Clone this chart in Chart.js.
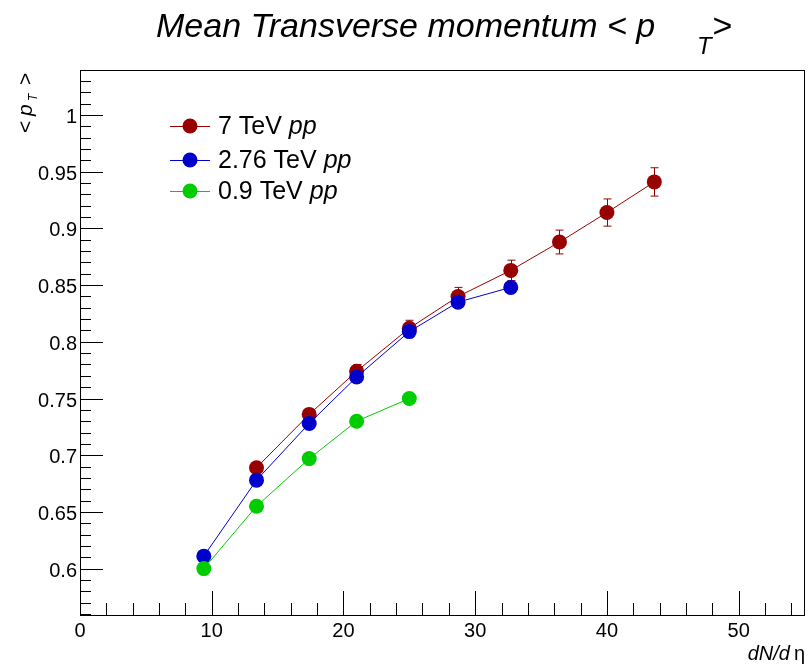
<!DOCTYPE html>
<html>
<head>
<meta charset="utf-8">
<script src="https://cdn.jsdelivr.net/npm/chart.js@4.4.1/dist/chart.umd.min.js"></script>
<style>
  body { margin: 0; background: #fff; }
  canvas { display: block; }
</style>
</head>
<body>
<canvas id="c" width="812" height="666"></canvas>
<script>
// values
const x7 = [13.4, 17.4, 21.0, 25.0, 28.7, 32.7, 36.4, 40.0, 43.6]
const pt7 = [0.689, 0.736, 0.774, 0.812, 0.840, 0.863, 0.888, 0.914, 0.941]
const err7 = [0.004, 0.005, 0.006, 0.007, 0.008, 0.009, 0.0105, 0.012, 0.0125]
const x276 = [9.4, 13.4, 17.4, 21.0, 25.0, 28.7, 32.7]
const pt276 = [0.611, 0.678, 0.728, 0.769, 0.809, 0.835, 0.848]
const x09 = [9.4, 13.4, 17.4, 21.0, 25.0]
const pt09 = [0.600, 0.655, 0.697, 0.730, 0.750]

const xTicks = [0, 10, 20, 30, 40, 50]
const yTicks = [0.6, 0.65, 0.7, 0.75, 0.8, 0.85, 0.9, 0.95, 1]
const yTickLabels = ['0.6', '0.65', '0.7', '0.75', '0.8', '0.85', '0.9', '0.95', '1']

const seriesNames = ['7 TeV', '2.76 TeV', '0.9 TeV']
const colors = ['#990000', '#0000cc', '#00cc00']

const FONT = '"Liberation Sans", Arial, sans-serif'

const pts = (xs, ys) => xs.map((x, i) => ({ x: x, y: ys[i] }))

// ROOT style frame: ticks inside, labels outside, custom titles
const rootFrame = {
  id: 'rootFrame',
  beforeDatasetsDraw(chart) {
    const { ctx } = chart
    const xs = chart.scales.x, ys = chart.scales.y
    // error bars on the 7 TeV series
    ctx.save()
    ctx.strokeStyle = colors[0]
    ctx.lineWidth = 1
    x7.forEach((x, i) => {
      const px = Math.round(xs.getPixelForValue(x)) + 0.5
      const top = ys.getPixelForValue(pt7[i] + err7[i])
      const bot = ys.getPixelForValue(pt7[i] - err7[i])
      ctx.beginPath()
      ctx.moveTo(px, top); ctx.lineTo(px, bot)
      ctx.moveTo(px - 4, top); ctx.lineTo(px + 4, top)
      ctx.moveTo(px - 4, bot); ctx.lineTo(px + 4, bot)
      ctx.stroke()
    })
    ctx.restore()
  },
  afterDraw(chart) {
    const { ctx, chartArea: a } = chart
    const xs = chart.scales.x, ys = chart.scales.y
    ctx.save()
    ctx.strokeStyle = '#000'
    ctx.lineWidth = 1
    ctx.strokeRect(Math.round(a.left) + 0.5, Math.round(a.top) + 0.5,
      Math.round(a.right - a.left) - 1, Math.round(a.bottom - a.top))

    // y ticks
    ctx.beginPath()
    for (let v = 56; v <= 103; v++) {
      const py = Math.round(ys.getPixelForValue(v / 100)) + 0.5
      const len = v % 5 === 0 ? 23 : 11
      ctx.moveTo(a.left, py); ctx.lineTo(a.left + len, py)
    }
    // x ticks
    for (let v = 0; v <= 54; v += 2) {
      const px = Math.round(xs.getPixelForValue(v)) + 0.5
      const len = v % 10 === 0 ? 24 : 12
      ctx.moveTo(px, a.bottom); ctx.lineTo(px, a.bottom - len)
    }
    ctx.stroke()

    ctx.fillStyle = '#000'
    ctx.font = '20px ' + FONT
    ctx.textAlign = 'right'
    ctx.textBaseline = 'alphabetic'
    yTicks.forEach((v, i) => ctx.fillText(yTickLabels[i], a.left - 3, ys.getPixelForValue(v) + 8))
    ctx.textAlign = 'center'
    xTicks.forEach(v => ctx.fillText(String(v), xs.getPixelForValue(v), a.bottom + 22))

    // x title
    ctx.textAlign = 'right'
    ctx.font = '20px ' + FONT
    ctx.fillText('\u03b7', 805, 660)
    const etaW = ctx.measureText('\u03b7').width
    ctx.font = 'italic 20px ' + FONT
    ctx.fillText('dN/d', 805 - etaW - 4, 660)

    // y title, rotated
    ctx.save()
    ctx.translate(32, 133)
    ctx.rotate(-Math.PI / 2)
    ctx.textAlign = 'left'
    ctx.font = '21px ' + FONT
    ctx.fillText('<', 0, 0)
    ctx.font = 'italic 21px ' + FONT
    ctx.fillText('p', 17, 0)
    ctx.font = 'italic 12px ' + FONT
    ctx.fillText('T', 32, 5)
    ctx.font = '21px ' + FONT
    ctx.fillText('>', 48, 0)
    ctx.restore()

    // title
    ctx.textAlign = 'left'
    ctx.font = 'italic 34px ' + FONT
    ctx.fillText('Mean Transverse momentum < p', 156, 37)
    ctx.font = 'italic 24px ' + FONT
    ctx.fillText('T', 697, 54)
    ctx.font = 'italic 34px ' + FONT
    ctx.fillText('>', 712, 37)

    // legend
    const legY = [126, 160, 191]
    seriesNames.forEach((name, i) => {
      const y = legY[i]
      ctx.strokeStyle = colors[i]
      ctx.beginPath()
      ctx.moveTo(170, y + 0.5); ctx.lineTo(210, y + 0.5)
      ctx.stroke()
      ctx.fillStyle = colors[i]
      ctx.beginPath()
      ctx.arc(190, y, 7.5, 0, Math.PI * 2)
      ctx.fill()
      ctx.fillStyle = '#000'
      ctx.textBaseline = 'middle'
      ctx.font = '25px ' + FONT
      const s = name + ' '
      ctx.fillText(s, 218, y + 1)
      const w = ctx.measureText(s).width
      ctx.font = 'italic 25px ' + FONT
      ctx.fillText('pp', 218 + w, y + 1)
    })
    ctx.restore()
  }
}

const mkSet = (data, i, order) => ({
  label: seriesNames[i],
  data: data,
  showLine: true,
  borderColor: colors[i],
  backgroundColor: colors[i],
  borderWidth: 1,
  pointRadius: 7.5,
  pointBorderWidth: 0,
  pointHoverRadius: 7.5,
  tension: 0,
  order: order
})

new Chart(document.getElementById('c'), {
  type: 'scatter',
  data: {
    datasets: [
      mkSet(pts(x7, pt7), 0, 3),
      mkSet(pts(x276, pt276), 1, 2),
      mkSet(pts(x09, pt09), 2, 1)
    ]
  },
  options: {
    responsive: false,
    animation: false,
    layout: { padding: { left: 80, top: 70, right: 5, bottom: 51 } },
    plugins: { legend: { display: false }, tooltip: { enabled: false } },
    scales: {
      x: { type: 'linear', min: 0, max: 55, display: false },
      y: { type: 'linear', min: 0.5591, max: 1.0397, display: false }
    }
  },
  plugins: [rootFrame]
})
</script>
</body>
</html>
